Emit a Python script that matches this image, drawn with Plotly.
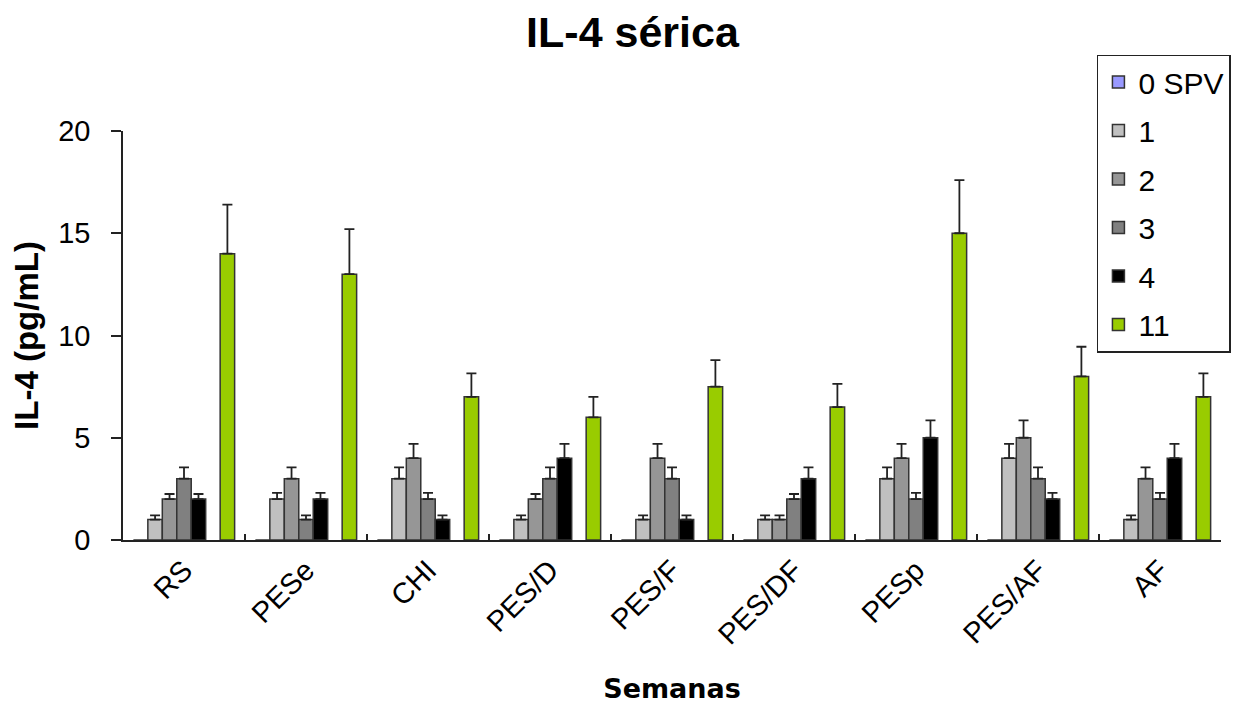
import plotly.graph_objects as go

categories = ["RS", "PESe", "CHI", "PES/D", "PES/F", "PES/DF", "PESp", "PES/AF", "AF"]

series_names = ["0 SPV", "1", "2", "3", "4", "11"]
v0 = [0, 0, 0, 0, 0, 0, 0, 0, 0]
v1 = [1, 2, 3, 1, 1, 1, 3, 4, 1]
v2 = [2, 3, 4, 2, 4, 1, 4, 5, 3]
v3 = [3, 1, 2, 3, 3, 2, 2, 3, 2]
v4 = [2, 2, 1, 4, 1, 3, 5, 2, 4]
v11 = [14, 13, 7, 6, 7.5, 6.5, 15, 8, 7]

e0 = [0, 0, 0, 0, 0, 0, 0, 0, 0]
e1 = [0.2, 0.3, 0.55, 0.2, 0.2, 0.2, 0.55, 0.7, 0.2]
e2 = [0.25, 0.55, 0.7, 0.25, 0.7, 0.2, 0.7, 0.85, 0.55]
e3 = [0.55, 0.2, 0.3, 0.55, 0.55, 0.25, 0.3, 0.55, 0.3]
e4 = [0.25, 0.3, 0.2, 0.7, 0.2, 0.55, 0.85, 0.3, 0.7]
e11 = [2.4, 2.2, 1.15, 1.0, 1.3, 1.13, 2.6, 1.45, 1.15]

colors = ["#9999FF", "#C0C0C0", "#969696", "#808080", "#000000", "#99CC00"]

values = [v0, v1, v2, v3, v4, v11]
errors = [e0, e1, e2, e3, e4, e11]

fig = go.Figure()
for i, (name, vals, errs, col) in enumerate(zip(series_names, values, errors, colors)):
    if name == "11":
        # empty slot present in the original chart between week 4 and week 11
        fig.add_trace(go.Bar(x=categories, y=[None] * len(categories), name="",
                             showlegend=False, hoverinfo="skip",
                             marker=dict(color="rgba(0,0,0,0)", line=dict(width=0))))
    show_err = name != "0 SPV"
    fig.add_trace(go.Bar(
        x=categories, y=vals, name=name, legendgroup=name,
        marker=dict(color=col, line=dict(color="#333333", width=1.5)),
        error_y=dict(type="data", array=errs, symmetric=False, arrayminus=[0] * len(errs),
                     visible=show_err, color="#222222", thickness=1.8, width=5),
    ))

fig.update_layout(
    width=1244, height=703,
    paper_bgcolor="white", plot_bgcolor="white",
    barmode="group", bargap=0.17, bargroupgap=0,
    margin=dict(l=115, r=31, t=123, b=171),
    title=dict(text="<b>IL-4 sérica</b>", x=0.502, xanchor="center", y=0.966, yanchor="middle",
               font=dict(family="Liberation Sans, Arial", size=43, color="black")),
    font=dict(family="Liberation Sans, Arial", color="black"),
    legend=dict(x=0.887, xanchor="left", y=1.187, yanchor="top",
                bordercolor="#222222", borderwidth=1.5, bgcolor="white",
                font=dict(family="Liberation Sans, Arial", size=30, color="black"),
                traceorder="grouped", tracegroupgap=6.5,
                itemclick=False),
    showlegend=True,
)

fig.update_yaxes(
    range=[0, 20], tickvals=[0, 5, 10, 15, 20],
    showgrid=False, zeroline=False,
    showline=True, linecolor="#222222", linewidth=1.5,
    ticks="outside", ticklen=10, tickcolor="#222222", tickwidth=1.5,
    ticklabelstandoff=15,
    tickfont=dict(family="Liberation Sans, Arial", size=29, color="black"),
    title=dict(text="<b>IL-4 (pg/mL)</b>", standoff=12,
               font=dict(family="Liberation Sans, Arial", size=33, color="black")),
    automargin=False,
)

fig.update_xaxes(
    showgrid=False, showline=True, linecolor="#222222", linewidth=1.5,
    ticks="inside", tickson="boundaries", ticklen=6, tickcolor="#222222", tickwidth=1.5,
    tickangle=-45,
    tickfont=dict(family="Liberation Sans, Arial", size=29, color="black"),
    title=dict(text="<b>Semanas</b>", standoff=29,
               font=dict(family="DejaVu Sans, Verdana", size=27, color="black")),
    automargin=False,
)

fig.write_html("out.html")
